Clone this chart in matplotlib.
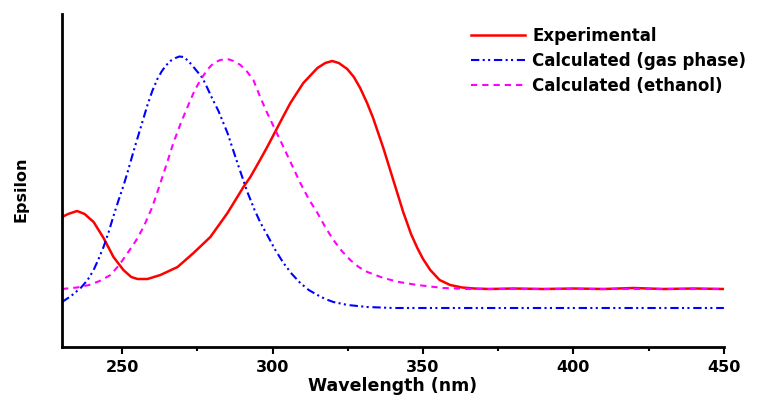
import matplotlib
matplotlib.use("Agg")
import matplotlib.pyplot as plt
from matplotlib.ticker import MultipleLocator

plt.rcParams['font.family'] = ['DejaVu Sans']

# wavelength (nm) and epsilon (arbitrary units)
wl_exp = [230, 232, 235, 237.5, 240.5, 243.8, 247.1, 250.4, 253, 255.1,
          258.4, 262.7, 268.4, 273.7, 279.3, 285.0, 290.3, 292.6, 296.0, 298.2,
          303.6, 305.9, 310.2, 314.9, 317.5, 319.8, 322, 324.8, 327, 329.1,
          331.4, 333.4, 336.8, 340.1, 343.4, 346, 348.1, 350, 352.4, 355.5,
          359.0, 363, 367, 372, 380, 390, 400, 410, 420, 430, 440, 450]
eps_exp = [130, 133, 136, 133, 125, 109, 90, 77, 70, 68,
           68, 72, 80, 94, 110, 134, 160, 170, 188, 200,
           231, 244, 264, 279, 284, 286, 284, 278, 270, 259,
           244, 229, 199, 167, 135, 113, 99, 88, 77, 67,
           62, 59.5, 58.5, 58, 58.5, 58, 58.5, 58, 59, 58, 58.5, 58]

wl_gas = [230, 233, 236.2, 238.5, 240.5, 242, 243.8, 245.5, 247.1, 248.7,
          250.4, 252, 253.8, 255.5, 257.1, 258.4, 260, 261.7, 263, 264.4,
          266, 267.7, 269, 270.4, 272, 273.7, 276.7, 278.3, 280, 282,
          285.0, 288.3, 291.6, 294, 296.0, 298.2, 300.9, 303.6, 306.4, 309.2,
          312, 314.9, 317.5, 320.2, 325, 331.5, 340, 360, 400, 450]
eps_gas = [45, 51, 59, 67, 77, 87, 100, 115, 131, 146,
           161, 177, 196, 213, 229, 242, 256, 268, 275, 281,
           286, 289, 290.5, 290, 286, 280, 269, 259, 248, 236,
           214, 184, 155, 137, 124, 112, 97, 84, 73, 64,
           57, 52, 48, 45, 42, 40, 39, 39, 39, 39]

wl_eth = [230, 235, 239, 242.5, 246.1, 249, 251.8, 254.5, 257.1, 260,
          262.7, 265, 267, 269.5, 271.7, 274, 276, 278.5, 280.4, 282.6,
          285, 287, 289.3, 291.6, 293.6, 296, 298.2, 300.9, 303.6, 306.4,
          309.2, 312, 314.9, 317.5, 320.2, 323, 325.8, 328.6, 331.5, 336.8,
          342, 348.1, 356.7, 365, 400, 450]
eps_eth = [58, 59.5, 62, 66, 72, 82, 94, 106, 120, 140,
           164, 185, 204, 224, 240, 256, 267, 278, 284, 287,
           288, 286, 282, 275, 267, 249, 234, 217, 200, 182,
           164, 148, 134, 120, 107, 96, 87, 80, 75, 69,
           65, 62, 59, 58, 58, 58]

fig = plt.figure(figsize=(7.62, 4.0), dpi=100)
ax = fig.add_axes([0.0814, 0.1325, 0.8686, 0.8325])

ax.plot(wl_exp, eps_exp, color='red', lw=1.8, label='Experimental')
ax.plot(wl_gas, eps_gas, color='blue', lw=1.5, dashes=(4, 1.6, 1, 1.6, 1, 1.8),
        label='Calculated (gas phase)')
ax.plot(wl_eth, eps_eth, color='magenta', lw=1.5, dashes=(3, 2.4),
        label='Calculated (ethanol)')

ax.set_xlim(230, 450)
ax.set_ylim(0, 333)
ax.xaxis.set_major_locator(MultipleLocator(50))
ax.xaxis.set_minor_locator(MultipleLocator(25))
ax.set_yticks([])
ax.spines['top'].set_visible(False)
ax.spines['right'].set_visible(False)
ax.spines['left'].set_linewidth(2)
ax.spines['bottom'].set_linewidth(2)
ax.tick_params(axis='x', which='major', direction='out', length=5, width=1.5,
               labelsize=11.5, pad=4)
ax.tick_params(axis='x', which='minor', direction='out', length=3, width=1.5)
for t in ax.get_xticklabels():
    t.set_fontweight('bold')

ax.set_xlabel('Wavelength (nm)', fontsize=12.5, fontweight='bold', labelpad=2)
ax.set_ylabel('Epsilon', fontsize=11.5, fontweight='bold')
ax.yaxis.set_label_coords(-0.05, 0.474)

leg = ax.legend(loc='upper left', frameon=False, fontsize=12,
                bbox_to_anchor=(471 / 762, 1 - 27 / 400), bbox_transform=fig.transFigure,
                borderpad=0, borderaxespad=0, handlelength=3.25, handletextpad=0.42,
                labelspacing=0.42)
for t in leg.get_texts():
    t.set_fontweight('bold')

fig.savefig('out.png', dpi=100)
